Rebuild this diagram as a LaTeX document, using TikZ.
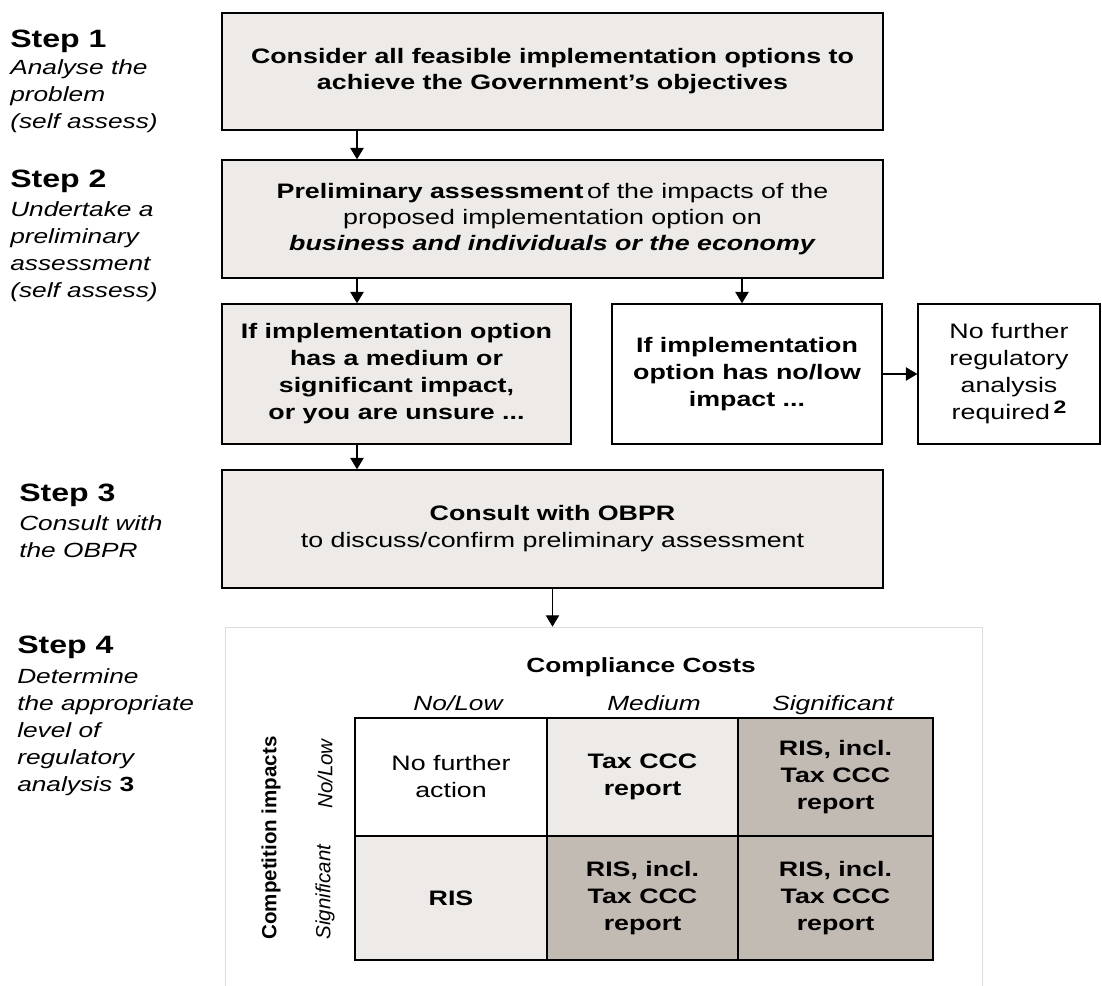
\documentclass[tikz,border=0pt]{standalone}
\usepackage{fontspec}
\setmainfont{Liberation Sans}[FakeStretch=1.28]
\newfontfamily\plainfont{Liberation Sans}
\usetikzlibrary{arrows.meta,calc}
\definecolor{boxgray}{HTML}{EDEAE7}
\definecolor{darkcell}{HTML}{C2BBB4}
\definecolor{framegray}{HTML}{DDDDDD}
\newcommand\boxfont{\fontsize{15.7pt}{19.5pt}\selectfont}
\newcommand\boxfontb{\fontsize{15.7pt}{20.25pt}\selectfont}
\newcommand\stepfont{\fontsize{18.8pt}{20pt}\selectfont\bfseries}
\newcommand\descfont{\fontsize{15.4pt}{20.25pt}\selectfont\itshape}
\tikzset{
  sz/.style 2 args={minimum width=#1*0.75pt, minimum height=#2*0.75pt},
  box/.style={draw=black, line width=1.1pt, fill=boxgray, align=center, inner sep=0pt, font=\boxfont},
  wbox/.style={box, fill=white},
  cell/.style={draw=black, line width=1.1pt, align=center, inner sep=0pt, font=\boxfontb},
  arr/.style={line width=0.9pt, -{Triangle[length=8.5pt,width=10pt]}},
  steph/.style={anchor=base west, inner sep=0pt, font=\stepfont},
  stepd/.style={anchor=base west, inner sep=0pt, align=left, font=\descfont},
  head/.style={anchor=base, inner sep=0pt, font=\fontsize{15.4pt}{20pt}\selectfont\itshape},
}
\begin{document}
\begin{tikzpicture}[x=0.75pt,y=-0.75pt]
\useasboundingbox (0,0) rectangle (1102,985);
\fill[white] (0,0) rectangle (1102,985);

% step labels (description anchors are on the last line's baseline)
\node[steph] (s1) at (10,47) {Step 1};
\node[stepd] (d1) at (10,128) {Analyse the\\problem\\(self assess)};
\node[steph] (s2) at (10,187) {Step 2};
\node[stepd] (d2) at (10,297) {Undertake a\\preliminary\\assessment\\(self assess)};
\node[steph] (s3) at (19,501) {Step 3};
\node[stepd] (d3) at (19,557) {Consult with\\the OBPR};
\node[steph] (s4) at (17,653) {Step 4};
\node[stepd] (d4) at (17,791) {Determine\\the appropriate\\level of\\regulatory\\analysis {\upshape\bfseries 3}};

% flow boxes
\node[box, sz={661}{117}, font=\boxfont\bfseries] (b1) at (552.5,71.5)
  {Consider all feasible implementation options to\\achieve the Government's objectives};
\node[box, sz={661}{118}] (b2) at (552.5,219)
  {\textbf{Preliminary assessment}\,of the impacts of the\\proposed implementation option on\\\textbf{\textit{business and individuals or the economy}}};
\node[box, sz={349}{140}, font=\boxfontb\bfseries] (b3a) at (396.5,374)
  {If implementation option\\has a medium or\\significant impact,\\or you are unsure ...};
\node[wbox, sz={270}{140}, font=\boxfontb\bfseries] (b3b) at (747,374)
  {If implementation\\option has no/low\\impact ...};
\node[wbox, sz={182}{140}, font=\boxfontb] (b3c) at (1009,374)
  {No further\\regulatory\\analysis\\required\,\raisebox{5pt}{\bfseries\fontsize{13.5pt}{14pt}\selectfont 2}};
\node[box, sz={661}{118}, font=\boxfontb] (b4) at (552.5,529)
  {\textbf{Consult with OBPR}\\to discuss/confirm preliminary assessment};

% container for step 4
\node[draw=framegray, line width=0.6pt, fill=white, sz={757}{380}, inner sep=0pt] (cont) at (603.5,817) {};

% connectors
\coordinate (xa) at (357,0);
\coordinate (xb) at (742,0);
\draw[arr] (xa |- b1.south) -- (xa |- b2.north);
\draw[arr] (xa |- b2.south) -- (xa |- b3a.north);
\draw[arr] (xb |- b2.south) -- (xb |- b3b.north);
\draw[arr] (b3b.east) -- (b3c.west);
\draw[arr] (xa |- b3a.south) -- (xa |- b4.north);
\draw[arr] (b4.south) -- (b4.south |- cont.north);

% table headings
\node[anchor=base, inner sep=0pt, font=\fontsize{15.4pt}{20pt}\selectfont\bfseries] (cc) at (641,672) {Compliance Costs};
\node[head] (h1) at (458,710) {No/Low};
\node[head] (h2) at (654,710) {Medium};
\node[head] (h3) at (833,710) {Significant};
\node[rotate=90, inner sep=0pt, font=\plainfont\fontsize{15.4pt}{20pt}\selectfont\bfseries] (ci) at (271,838) {Competition impacts};
\node[rotate=90, inner sep=0pt, font=\plainfont\fontsize{15.4pt}{20pt}\selectfont\itshape] (r1) at (325,774) {No/Low};
\node[rotate=90, inner sep=0pt, font=\plainfont\fontsize{15.4pt}{20pt}\selectfont\itshape] (r2) at (325,892) {Significant};

% table cells
\node[cell, fill=white, sz={192}{118}] (c11) at (451,777) {No further\\action};
\node[cell, fill=boxgray, sz={191}{118}, font=\boxfontb\bfseries] (c12) at (642.5,777) {Tax CCC\\report};
\node[cell, fill=darkcell, sz={195}{118}, font=\boxfontb\bfseries] (c13) at (835.5,777) {RIS, incl.\\Tax CCC\\report};
\node[cell, fill=boxgray, sz={192}{124}, font=\boxfontb\bfseries] (c21) at (451,898) {RIS};
\node[cell, fill=darkcell, sz={191}{124}, font=\boxfontb\bfseries] (c22) at (642.5,898) {RIS, incl.\\Tax CCC\\report};
\node[cell, fill=darkcell, sz={195}{124}, font=\boxfontb\bfseries] (c23) at (835.5,898) {RIS, incl.\\Tax CCC\\report};
\end{tikzpicture}
\end{document}
